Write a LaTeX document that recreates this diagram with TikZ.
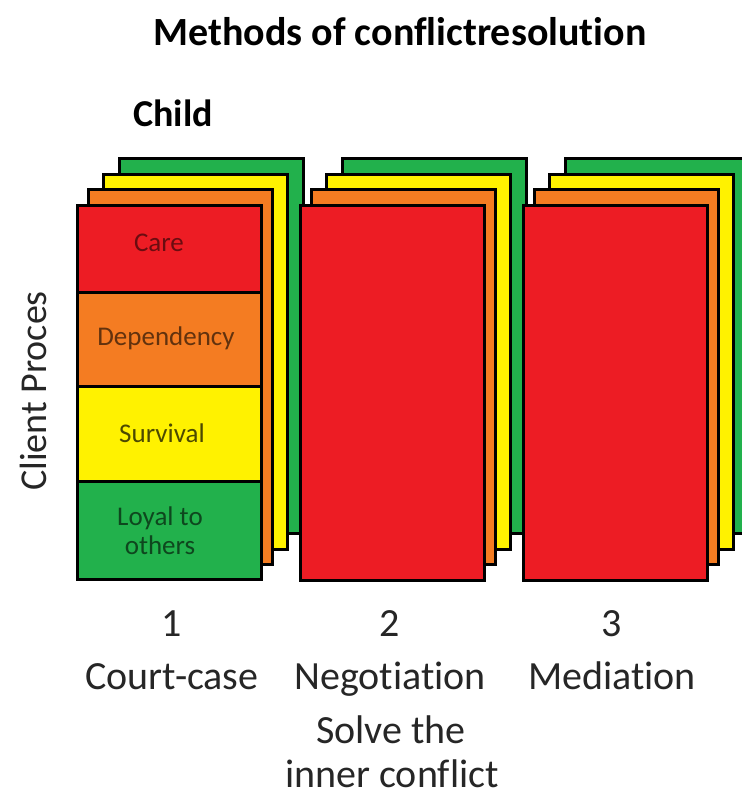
\documentclass[tikz,border=0pt]{standalone}
\usepackage{fontspec}
\setmainfont[Ligatures=NoCommon]{Carlito}
\definecolor{cred}{HTML}{ED1C24}
\definecolor{corange}{HTML}{F47C22}
\definecolor{cyellow}{HTML}{FFF200}
\definecolor{cgreen}{HTML}{22B14C}
\definecolor{ctext}{HTML}{262626}
\begin{document}
\begin{tikzpicture}[x=1pt,y=-1pt,
  card/.style={draw=black, line width=2.6pt, inner sep=0pt, anchor=north west,
    minimum width=184pt, minimum height=375pt},
  cell/.style={draw=black, line width=2.6pt, inner sep=0pt, anchor=north west,
    minimum width=184pt},
  celltext/.style={font=\fontsize{27}{29}\selectfont, align=center, inner sep=0pt},
  bigtext/.style={font=\fontsize{40}{44}\selectfont, text=ctext, inner sep=0pt, anchor=base},
  boldtext/.style={font=\fontsize{38}{44}\selectfont\bfseries, text=black, inner sep=0pt}]
\useasboundingbox (0,0) rectangle (741,791);
\fill[white] (0,0) rectangle (741,791);

\foreach \k in {0,1,2}{
  \pgfmathsetmacro\dx{223*\k}
  \node[card, fill=cgreen]  (g\k) at (118+\dx,157) {};
  \node[card, fill=cyellow] (y\k) at (102+\dx,173) {};
  \node[card, fill=corange] (o\k) at (87+\dx,188) {};
  \ifnum\k>0
    \node[card, fill=cred] (r\k) at (76+\dx,204) {};
  \else
    \node[cell, fill=cred,    minimum height=87pt] (care) at (76,204) {};
    \node[cell, fill=corange, minimum height=94pt] (dep)  at (76,291) {};
    \node[cell, fill=cyellow, minimum height=95pt] (surv) at (76,385) {};
    \node[cell, fill=cgreen,  minimum height=98pt] (loyal) at (76,480) {};
  \fi
}

\node[celltext, text=cred!45!black]    (tcare) at (159,243) {Care};
\node[celltext, text=corange!40!black] (tdep)  at (166,338) {Dependency};
\node[celltext, text=cyellow!30!black] (tsurv) at (162,433) {Survival};
\node[celltext, text=cgreen!40!black]  (tloyal) at (160,531) {Loyal to\\others};

\node[boldtext, font=\fontsize{40}{44}\selectfont\bfseries] (title) at (400,32) {Methods of conflictresolution};
\node[boldtext] (child) at (173,113) {Child};
\node[bigtext, font=\fontsize{38}{44}\selectfont, anchor=center, rotate=90] (client) at (33,391) {Client Proces};

\node[bigtext] (n1) at (172,636) {1};
\node[bigtext] (n2) at (390,636) {2};
\node[bigtext] (n3) at (612,636) {3};
\node[bigtext] (m1) at (172,689) {Court-case};
\node[bigtext] (m2) at (390,689) {Negotiation};
\node[bigtext] (m3) at (612,689) {Mediation};
\node[bigtext] (s1) at (391,743) {Solve the};
\node[bigtext] (s2) at (392,787) {inner conflict};
\end{tikzpicture}
\end{document}
